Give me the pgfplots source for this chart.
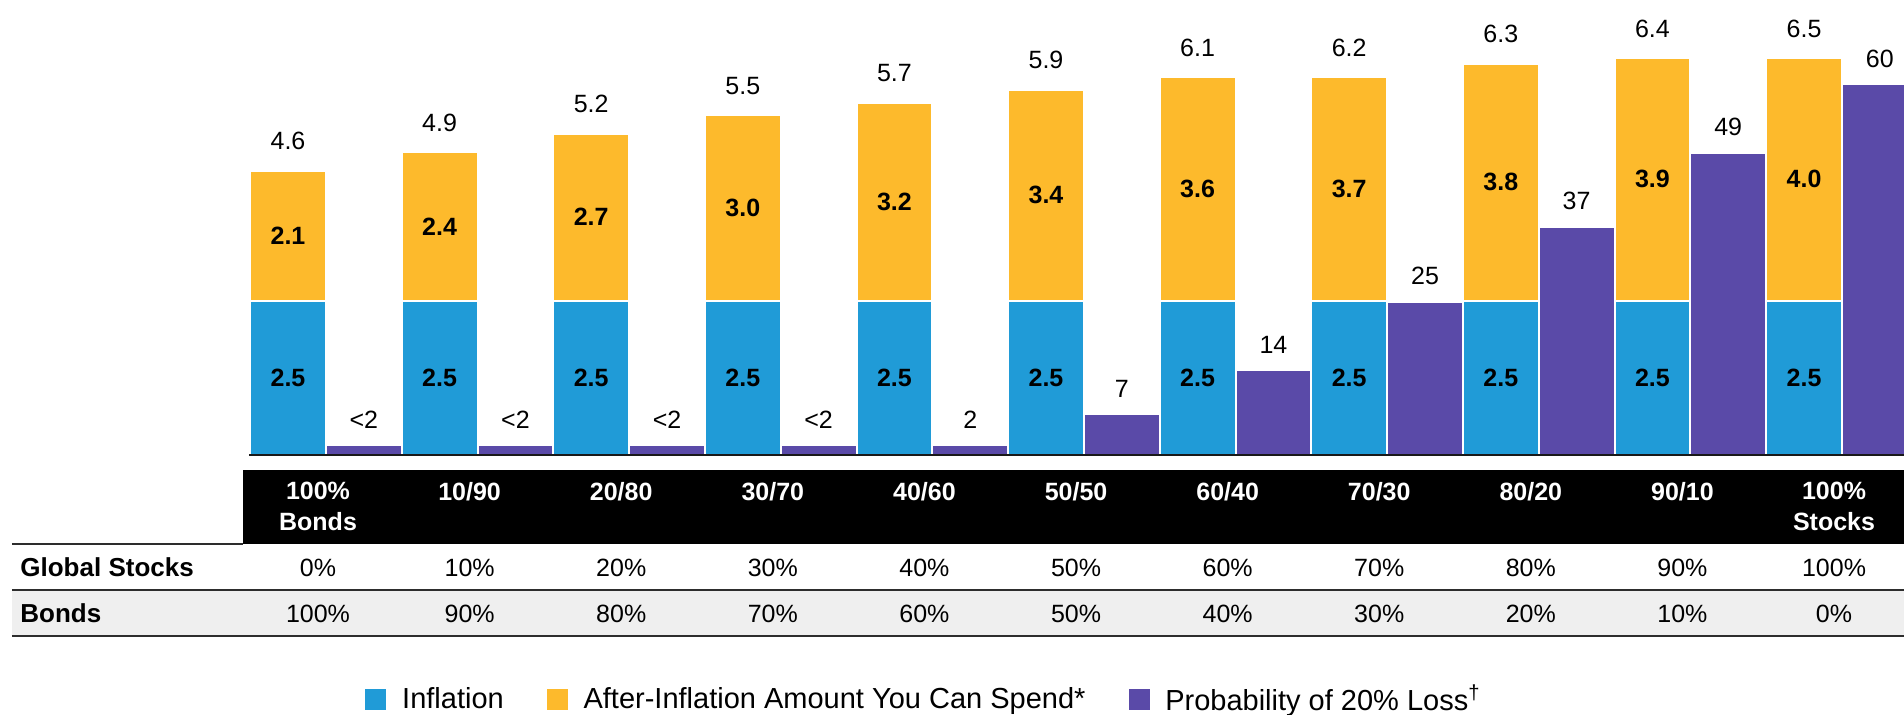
\documentclass[border=0pt]{standalone}
\usepackage{pgfplots}
\pgfplotsset{compat=1.18}
\usepackage{pgfplotstable}
\usepackage{fontspec}
\setmainfont{Liberation Sans}
\definecolor{cInf}{RGB}{32,155,215}
\definecolor{cSp}{RGB}{253,186,44}
\definecolor{cPr}{RGB}{90,74,168}
\definecolor{rowgray}{RGB}{239,239,239}
\definecolor{rulec}{RGB}{45,45,45}

\pgfplotstableread{
x inf seg total top purp plab
0 2.5 2.1 4.60 4.6 1.6 <2
1 2.5 2.4 4.90 4.9 1.6 <2
2 2.5 2.7 5.20 5.2 1.6 <2
3 2.5 3.0 5.50 5.5 1.6 <2
4 2.5 3.2 5.70 5.7 1.6 2
5 2.5 3.4 5.91 5.9 6.6 7
6 2.5 3.6 6.11 6.1 13.7 14
7 2.5 3.7 6.11 6.2 24.8 25
8 2.5 3.8 6.33 6.3 36.9 37
9 2.5 3.9 6.42 6.4 48.9 49
10 2.5 4.0 6.42 6.5 60.0 60
}\datatable

\newcommand{\vfont}{\fontsize{12.5}{15}\selectfont}

\begin{document}
\begin{tikzpicture}
\useasboundingbox (0,0) rectangle (952pt,357pt);
\begin{axis}[
  at={(0,0)}, anchor=south west,
  width=952pt, height=357pt, scale only axis,
  xmin=-1.8997, xmax=10.6596, ymin=-4.1909, ymax=7.3625,
  axis line style={draw=none}, major tick length=0pt, ytick=\empty,
  axis on top,
  xtick={0.198,1.198,2.198,3.198,4.198,5.198,6.198,7.198,8.198,9.198,10.198},
  xticklabels={{100\%\\Bonds},10/90,20/80,30/70,40/60,50/50,60/40,70/30,80/20,90/10,{100\%\\Stocks}},
  xticklabel style={text=white, font=\bfseries\fontsize{12.5}{15.5}\selectfont, align=center, anchor=north, inner sep=0pt, yshift=116pt},
  clip=true,
  legend style={at={(axis cs:0.508,-3.948)}, anchor=west, draw=none, fill=none, inner sep=0pt,
    font=\fontsize{14.5}{17}\selectfont, legend columns=3, legend cell align=left,
    /tikz/every odd column/.append style={column sep=6pt},
    /tikz/every even column/.append style={column sep=19.5pt}},
]
% table background
\fill[black] (axis cs:{(243-288)/151.6},{(455-470)/61.8}) rectangle (axis cs:{(1904-288)/151.6},{(455-543.5)/61.8});
\fill[rowgray] (axis cs:{(12-288)/151.6},{(455-590)/61.8}) rectangle (axis cs:{(1904-288)/151.6},{(455-636)/61.8});
\draw[rulec, line width=1pt] (axis cs:{(12-288)/151.6},{(455-544)/61.8}) -- (axis cs:{(243-288)/151.6},{(455-544)/61.8});
\draw[rulec, line width=1pt] (axis cs:{(12-288)/151.6},{(455-590)/61.8}) -- (axis cs:{(1904-288)/151.6},{(455-590)/61.8});
\draw[rulec, line width=1.2pt] (axis cs:{(12-288)/151.6},{(455-636)/61.8}) -- (axis cs:{(1904-288)/151.6},{(455-636)/61.8});
\node[anchor=base west, inner sep=0pt, font=\bfseries\fontsize{13}{15}\selectfont] at (axis cs:{(20-288)/151.6},{(455-576)/61.8}) {Global Stocks};
\node[anchor=base west, inner sep=0pt, font=\bfseries\fontsize{13}{15}\selectfont] at (axis cs:{(20-288)/151.6},{(455-622.5)/61.8}) {Bonds};
\pgfplotsinvokeforeach{0,...,10}{
  \node[anchor=base, inner sep=0pt, font=\vfont] at (axis cs:{#1+0.198},{(455-576)/61.8}) {\pgfmathparse{int(10*#1)}\pgfmathresult\%};
  \node[anchor=base, inner sep=0pt, font=\vfont] at (axis cs:{#1+0.198},{(455-622.5)/61.8}) {\pgfmathparse{int(100-10*#1)}\pgfmathresult\%};
}
% bars
\addplot[ybar, bar width=0.5, bar shift=0pt, fill=cSp, draw=white, line width=1pt, forget plot,
  nodes near coords, point meta=explicit symbolic,
  every node near coord/.style={anchor=base, yshift=10.5pt, inner sep=0pt, draw=none, fill=none, text=black, font=\vfont}]
  table[x=x, y=total, meta=top]{\datatable};
\addplot[ybar, bar width=0.5, bar shift=0pt, fill=cInf, draw=white, line width=1pt, forget plot]
  table[x=x, y=inf]{\datatable};
\addplot[ybar, bar width=0.5, bar shift=0pt, fill=cPr, draw=white, line width=1pt, forget plot,
  nodes near coords, point meta=explicit symbolic,
  every node near coord/.style={anchor=base, yshift=8.5pt, inner sep=0pt, draw=none, fill=none, text=black, font=\vfont}]
  table[x expr=\thisrow{x}+0.5, y expr=\thisrow{purp}/10, meta=plab]{\datatable};
% segment labels
\addplot[draw=none, mark=none, forget plot,
  nodes near coords, point meta=explicit symbolic,
  every node near coord/.style={anchor=center, inner sep=0pt, text=black, font=\bfseries\vfont}]
  table[x=x, y expr=\thisrow{inf}/2, meta=inf]{\datatable};
\addplot[draw=none, mark=none, forget plot,
  nodes near coords, point meta=explicit symbolic,
  every node near coord/.style={anchor=center, inner sep=0pt, text=black, font=\bfseries\vfont}]
  table[x=x, y expr=(\thisrow{inf}+\thisrow{total})/2, meta=seg]{\datatable};
% baseline
\draw[black!90, line width=0.7pt] (axis cs:{(249-288)/151.6},0) -- (axis cs:{(1904-288)/151.6},0);
% legend
\addlegendimage{legend image code/.code={\fill[cInf] (0pt,-5pt) rectangle (10pt,5pt);}}
\addlegendentry{Inflation}
\addlegendimage{legend image code/.code={\fill[cSp] (0pt,-5pt) rectangle (10pt,5pt);}}
\addlegendentry{After-Inflation Amount You Can Spend*}
\addlegendimage{legend image code/.code={\fill[cPr] (0pt,-5pt) rectangle (10pt,5pt);}}
\addlegendentry{Probability of 20\% Loss\textsuperscript{†}}
\end{axis}
\end{tikzpicture}
\end{document}
